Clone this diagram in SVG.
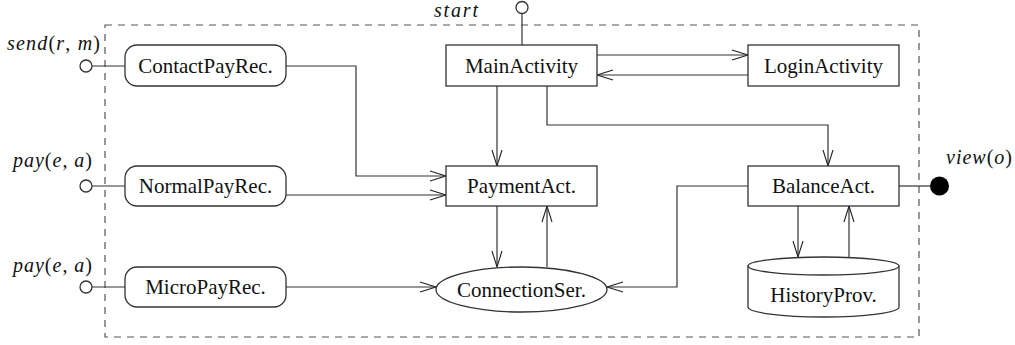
<svg xmlns="http://www.w3.org/2000/svg" width="1015" height="345" viewBox="0 0 1015 345">
<defs>
<marker id="arr" markerUnits="userSpaceOnUse" markerWidth="20" markerHeight="14" refX="17" refY="6" orient="auto">
<path d="M1,1 L17,6 L1,11" fill="none" stroke="#222" stroke-width="1.1"/>
</marker>
</defs>
<style>
text{font-family:"Liberation Serif","Times New Roman","DejaVu Serif",serif}
.box{fill:#fff;stroke:#333;stroke-width:1.3}
.lbl{font-size:21px;fill:#111;text-anchor:middle}
.math{font-size:20px;fill:#111}
.it{font-style:italic}
.con{fill:none;stroke:#333;stroke-width:1.2}
.arrow{marker-end:url(#arr)}
.port{fill:#fff;stroke:#333;stroke-width:1.3}
.frame{fill:none;stroke:#555;stroke-width:1.2;stroke-dasharray:7,6}
</style>
<rect class="frame" x="105" y="25" width="814" height="312"/>

<g id="connectors">
<path class="con" d="M92,66 H125"/>
<path class="con" d="M92,186 H125"/>
<path class="con" d="M92,287 H125"/>
<path class="con" d="M522,13.5 V45"/>
<path class="con" d="M899,186 H930"/>
<path class="con arrow" d="M286,66 H356 V176 H446"/>
<path class="con arrow" d="M286,195 H446"/>
<path class="con arrow" d="M286,287 H436"/>
<path class="con arrow" d="M597,55 H748"/>
<path class="con arrow" d="M748,75 H597"/>
<path class="con arrow" d="M497,86 V166"/>
<path class="con arrow" d="M547,86 V125 H828 V166"/>
<path class="con arrow" d="M497,206 V267"/>
<path class="con arrow" d="M547,267 V206"/>
<path class="con arrow" d="M748,186 H677 V287 H607"/>
<path class="con arrow" d="M798,206 V257"/>
<path class="con arrow" d="M849,257 V206"/>
</g>

<g id="port-send">
<circle class="port" cx="86" cy="66" r="6"/>
<text class="math" x="7" y="50" textLength="93" lengthAdjust="spacing"><tspan class="it">send</tspan>(<tspan class="it">r</tspan>, <tspan class="it">m</tspan>)</text>
</g>
<g id="port-pay1">
<circle class="port" cx="86" cy="186" r="6"/>
<text class="math" x="13" y="167" textLength="79" lengthAdjust="spacing"><tspan class="it">pay</tspan>(<tspan class="it">e</tspan>, <tspan class="it">a</tspan>)</text>
</g>
<g id="port-pay2">
<circle class="port" cx="86" cy="287" r="6"/>
<text class="math" x="13" y="272" textLength="79" lengthAdjust="spacing"><tspan class="it">pay</tspan>(<tspan class="it">e</tspan>, <tspan class="it">a</tspan>)</text>
</g>
<g id="port-start">
<circle class="port" cx="522" cy="7.5" r="6"/>
<text class="math it" x="434" y="17" textLength="44" lengthAdjust="spacing">start</text>
</g>
<g id="port-view">
<circle cx="939.5" cy="186" r="9.5" fill="#000"/>
<text class="math" x="946" y="164" textLength="66" lengthAdjust="spacing"><tspan class="it">view</tspan>(<tspan class="it">o</tspan>)</text>
</g>

<g id="ContactPayRec">
<rect class="box" x="125" y="45" width="161" height="41" rx="12"/>
<text class="lbl" x="205.5" y="72.5">ContactPayRec.</text>
</g>
<g id="NormalPayRec">
<rect class="box" x="125" y="166" width="161" height="40" rx="12"/>
<text class="lbl" x="205.5" y="193">NormalPayRec.</text>
</g>
<g id="MicroPayRec">
<rect class="box" x="125" y="267" width="161" height="40" rx="12"/>
<text class="lbl" x="205.5" y="294">MicroPayRec.</text>
</g>
<g id="MainActivity">
<rect class="box" x="446" y="45" width="151" height="41"/>
<text class="lbl" x="521.5" y="72.5">MainActivity</text>
</g>
<g id="LoginActivity">
<rect class="box" x="748" y="45" width="151" height="41"/>
<text class="lbl" x="823.5" y="72.5">LoginActivity</text>
</g>
<g id="PaymentAct">
<rect class="box" x="446" y="166" width="151" height="40"/>
<text class="lbl" x="521.5" y="193">PaymentAct.</text>
</g>
<g id="BalanceAct">
<rect class="box" x="748" y="166" width="151" height="40"/>
<text class="lbl" x="823.5" y="193">BalanceAct.</text>
</g>
<g id="ConnectionSer">
<ellipse class="box" cx="521.5" cy="289.5" rx="85.5" ry="22.5"/>
<text class="lbl" x="521.5" y="296.5">ConnectionSer.</text>
</g>
<g id="HistoryProv">
<path class="box" d="M748,266 V307 A75.5,10 0 0 0 899,307 V266"/>
<ellipse class="box" cx="823.5" cy="266" rx="75.5" ry="9"/>
<text class="lbl" x="823.5" y="302">HistoryProv.</text>
</g>
</svg>
